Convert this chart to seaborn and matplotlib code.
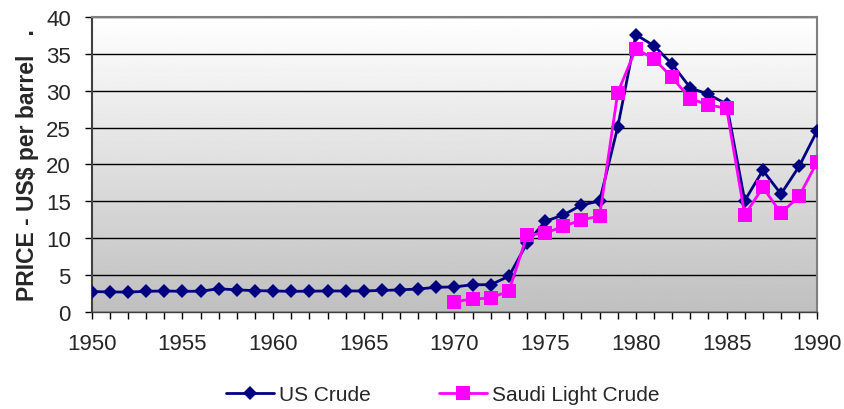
import numpy as np
import pandas as pd
from matplotlib import pyplot as plt
import seaborn as sns

years = list(range(1950, 1991))
us_crude = [2.77, 2.72, 2.70, 2.80, 2.85, 2.80, 2.82, 3.15, 3.00, 2.90,
            2.85, 2.80, 2.82, 2.85, 2.85, 2.85, 2.92, 3.00, 3.12, 3.35,
            3.40, 3.70, 3.70, 4.85, 9.35, 12.3, 13.15, 14.5, 15.05, 25.1,
            37.6, 36.1, 33.6, 30.4, 29.5, 28.2, 15.1, 19.2, 16.0, 19.75, 24.6]
saudi_years = list(range(1970, 1991))
saudi_light = [1.40, 1.75, 1.90, 2.85, 10.4, 10.7, 11.6, 12.5, 13.0, 29.75,
               35.7, 34.3, 31.8, 28.9, 28.1, 27.6, 13.15, 16.9, 13.4, 15.7, 20.4]

df = pd.concat([
    pd.DataFrame({"Year": years, "Price": us_crude, "Series": "US Crude"}),
    pd.DataFrame({"Year": saudi_years, "Price": saudi_light, "Series": "Saudi Light Crude"}),
])

sns.set_theme(style="white")
plt.rcParams["font.family"] = ["Liberation Sans", "DejaVu Sans"]

fig = plt.figure(figsize=(8.45, 4.10), dpi=100)
ax = fig.add_axes([0.1085, 0.2366, 0.8587, 0.7195])

# gradient background: white at top, grey at bottom
grad = np.linspace(1.0, 0.75, 256).reshape(-1, 1)
ax.imshow(grad, cmap="gray", vmin=0, vmax=1, aspect="auto",
          extent=[0, 1, 0, 1], transform=ax.transAxes, zorder=0)

sns.lineplot(data=df, x="Year", y="Price", hue="Series", style="Series",
             palette={"US Crude": "#000080", "Saudi Light Crude": "#ff00ff"},
             markers={"US Crude": "D", "Saudi Light Crude": "s"},
             dashes=False, linewidth=2, markeredgewidth=0, ax=ax, zorder=3)
for line in ax.lines:
    if line.get_marker() == "D":
        line.set_markersize(7)
    elif line.get_marker() == "s":
        line.set_markersize(10)

ax.set_xlim(1950, 1990)
ax.set_ylim(0, 40)
ax.set_xticks(range(1950, 1991, 5))
ax.set_xticks(range(1950, 1991), minor=True)
ax.set_yticks(range(0, 41, 5))
ax.yaxis.grid(True, color="black", linewidth=1, zorder=1)
ax.set_axisbelow(True)
ax.tick_params(axis="x", which="both", direction="out", bottom=True, length=5,
               width=1, color="black", labelsize=16, pad=10)
ax.tick_params(axis="y", direction="out", left=True, length=5, width=1,
               color="black", labelsize=16, pad=10)
ax.set_xlabel("")
ax.set_ylabel("PRICE - US$ per barrel   .", fontsize=16.5, fontweight="bold")
ax.yaxis.set_label_coords(-0.073, 0.5)

for side in ["top", "right"]:
    ax.spines[side].set_color("#808080")
    ax.spines[side].set_linewidth(1.5)
ax.spines["left"].set_color("#404040")
ax.spines["left"].set_linewidth(1.5)
ax.spines["bottom"].set_color("#404040")
ax.spines["bottom"].set_linewidth(1)

handles, labels = ax.get_legend_handles_labels()
ax.legend(handles, labels, loc="center", bbox_to_anchor=(0.484, -0.28),
          ncol=2, frameon=False, fontsize=15, handlelength=2.3,
          columnspacing=3.3, handletextpad=0.25)

plt.savefig("out.png", dpi=100)
